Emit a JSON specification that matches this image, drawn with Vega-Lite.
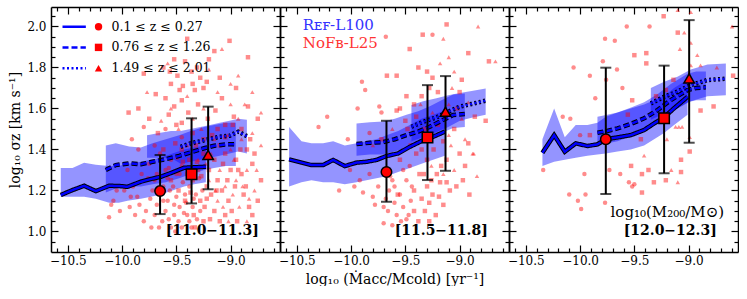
{
"$schema":"https://vega.github.io/schema/vega-lite/v6.json",
"padding":{"left":8,"top":6,"right":0,"bottom":0},
"background":"white",
"spacing":0,
"bounds":"flush",
"config":{"view":{"stroke":null},"axis":{"domainColor":"black","domainWidth":1.5,"tickColor":"black","tickWidth":1.2,"labelFont":"DejaVu Serif","labelFontSize":12,"labelColor":"black","titleFont":"DejaVu Serif","titleFontSize":14,"titleFontWeight":"normal","titleColor":"black","grid":false,"zindex":1}},
"datasets":{
"pts":[
{"p":1,"x":-9.40,"y":1.94,"z":2},{"p":1,"x":-9.01,"y":1.93,"z":2},{"p":1,"x":-9.20,"y":1.84,"z":2},{"p":1,"x":-8.84,"y":1.85,"z":2},{"p":1,"x":-9.49,"y":1.76,"z":2},{"p":1,"x":-9.44,"y":1.71,"z":2},{"p":1,"x":-9.31,"y":1.80,"z":2},{"p":1,"x":-9.80,"y":1.77,"z":2},{"p":1,"x":-9.69,"y":1.67,"z":2},{"p":1,"x":-9.52,"y":1.61,"z":2},{"p":1,"x":-9.94,"y":1.58,"z":2},{"p":1,"x":-9.57,"y":1.57,"z":2},{"p":1,"x":-9.67,"y":1.48,"z":2},{"p":1,"x":-8.97,"y":1.56,"z":2},{"p":1,"x":-8.84,"y":1.61,"z":2},{"p":1,"x":-9.08,"y":1.65,"z":2},{"p":1,"x":-9.14,"y":1.59,"z":2},{"p":1,"x":-9.35,"y":1.72,"z":2},{"p":1,"x":-9.25,"y":1.70,"z":2},{"p":1,"x":-9.55,"y":1.72,"z":2},{"p":1,"x":-9.60,"y":1.65,"z":2},{"p":1,"x":-9.45,"y":1.64,"z":2},{"p":1,"x":-9.28,"y":1.75,"z":2},{"p":1,"x":-9.10,"y":1.75,"z":2},{"p":1,"x":-8.95,"y":1.70,"z":2},{"p":1,"x":-9.62,"y":1.80,"z":2},{"p":1,"x":-9.15,"y":1.88,"z":2},{"p":1,"x":-9.50,"y":1.52,"z":2},{"p":1,"x":-9.75,"y":1.55,"z":2},{"p":1,"x":-9.85,"y":1.60,"z":2},{"p":1,"x":-9.30,"y":1.62,"z":2},{"p":1,"x":-8.90,"y":1.50,"z":2},{"p":1,"x":-9.05,"y":1.52,"z":2},{"p":1,"x":-8.75,"y":1.55,"z":2},
{"p":1,"x":-9.52,"y":1.84,"z":2},{"p":1,"x":-9.42,"y":1.83,"z":2},{"p":1,"x":-9.36,"y":1.78,"z":2},{"p":1,"x":-9.47,"y":1.69,"z":2},{"p":1,"x":-9.33,"y":1.69,"z":2},{"p":1,"x":-9.22,"y":1.73,"z":2},{"p":1,"x":-9.56,"y":1.78,"z":2},
{"p":1,"x":-9.45,"y":1.40,"z":2},{"p":1,"x":-9.38,"y":1.35,"z":2},{"p":1,"x":-9.32,"y":1.42,"z":2},{"p":1,"x":-9.25,"y":1.38,"z":2},{"p":1,"x":-9.20,"y":1.30,"z":2},{"p":1,"x":-9.15,"y":1.35,"z":2},{"p":1,"x":-9.10,"y":1.42,"z":2},{"p":1,"x":-9.05,"y":1.38,"z":2},{"p":1,"x":-9.00,"y":1.30,"z":2},{"p":1,"x":-8.95,"y":1.35,"z":2},{"p":1,"x":-8.90,"y":1.28,"z":2},{"p":1,"x":-8.85,"y":1.40,"z":2},{"p":1,"x":-8.80,"y":1.33,"z":2},{"p":1,"x":-9.40,"y":1.28,"z":2},{"p":1,"x":-9.35,"y":1.25,"z":2},{"p":1,"x":-9.30,"y":1.30,"z":2},{"p":1,"x":-9.22,"y":1.22,"z":2},{"p":1,"x":-9.18,"y":1.18,"z":2},{"p":1,"x":-9.12,"y":1.25,"z":2},{"p":1,"x":-9.08,"y":1.20,"z":2},{"p":1,"x":-9.02,"y":1.15,"z":2},{"p":1,"x":-8.96,"y":1.22,"z":2},{"p":1,"x":-8.88,"y":1.18,"z":2},{"p":1,"x":-8.83,"y":1.12,"z":2},{"p":1,"x":-8.80,"y":1.08,"z":2},{"p":1,"x":-9.28,"y":1.15,"z":2},{"p":1,"x":-9.34,"y":1.08,"z":2},{"p":1,"x":-9.25,"y":1.05,"z":2},{"p":1,"x":-9.15,"y":1.10,"z":2},{"p":1,"x":-9.10,"y":1.05,"z":2},{"p":1,"x":-9.05,"y":1.08,"z":2},{"p":1,"x":-9.42,"y":1.15,"z":2},{"p":1,"x":-9.48,"y":1.20,"z":2},{"p":1,"x":-9.55,"y":1.25,"z":2},{"p":1,"x":-9.25,"y":1.45,"z":2},{"p":1,"x":-9.35,"y":1.48,"z":2},{"p":1,"x":-9.05,"y":1.46,"z":2},{"p":1,"x":-9.62,"y":1.40,"z":2},{"p":1,"x":-8.72,"y":1.25,"z":2},{"p":1,"x":-8.75,"y":1.15,"z":2},
{"p":1,"x":-9.37,"y":1.19,"z":2},{"p":1,"x":-9.31,"y":1.34,"z":2},{"p":1,"x":-9.27,"y":1.27,"z":2},{"p":1,"x":-9.22,"y":1.16,"z":2},{"p":1,"x":-9.19,"y":1.06,"z":2},{"p":1,"x":-9.13,"y":1.20,"z":2},{"p":1,"x":-9.07,"y":1.33,"z":2},{"p":1,"x":-9.03,"y":1.25,"z":2},{"p":1,"x":-8.99,"y":1.10,"z":2},{"p":1,"x":-8.93,"y":1.30,"z":2},{"p":1,"x":-8.91,"y":1.40,"z":2},{"p":1,"x":-8.86,"y":1.22,"z":2},{"p":1,"x":-8.82,"y":1.45,"z":2},{"p":1,"x":-8.78,"y":1.38,"z":2},{"p":1,"x":-9.17,"y":1.47,"z":2},{"p":1,"x":-9.45,"y":1.53,"z":2},{"p":1,"x":-9.39,"y":1.58,"z":2},{"p":1,"x":-9.21,"y":1.55,"z":2},{"p":1,"x":-9.12,"y":1.50,"z":2},{"p":1,"x":-8.98,"y":1.52,"z":2},{"p":1,"x":-9.44,"y":1.34,"z":2},{"p":1,"x":-9.51,"y":1.43,"z":2},{"p":1,"x":-9.33,"y":1.02,"z":2},{"p":1,"x":-9.24,"y":1.12,"z":2},{"p":1,"x":-8.94,"y":1.05,"z":2},
{"p":1,"x":-9.08,"y":1.89,"z":3},{"p":1,"x":-8.93,"y":1.76,"z":3},{"p":1,"x":-9.58,"y":1.82,"z":3},{"p":1,"x":-9.77,"y":1.68,"z":3},{"p":1,"x":-9.64,"y":1.54,"z":3},{"p":1,"x":-9.20,"y":1.79,"z":3},{"p":1,"x":-9.00,"y":1.72,"z":3},{"p":1,"x":-8.80,"y":1.68,"z":3},{"p":1,"x":-9.40,"y":1.66,"z":3},{"p":1,"x":-9.25,"y":1.60,"z":3},{"p":1,"x":-8.87,"y":1.62,"z":3},{"p":1,"x":-9.12,"y":1.68,"z":3},{"p":1,"x":-9.35,"y":1.55,"z":3},{"p":1,"x":-9.48,"y":1.50,"z":3},{"p":1,"x":-8.72,"y":1.58,"z":3},{"p":1,"x":-9.00,"y":1.62,"z":3},{"p":1,"x":-9.55,"y":1.60,"z":3},
{"p":1,"x":-9.15,"y":1.45,"z":3},{"p":1,"x":-9.00,"y":1.40,"z":3},{"p":1,"x":-8.90,"y":1.45,"z":3},{"p":1,"x":-8.85,"y":1.30,"z":3},{"p":1,"x":-8.95,"y":1.25,"z":3},{"p":1,"x":-8.78,"y":1.20,"z":3},{"p":1,"x":-9.10,"y":1.30,"z":3},{"p":1,"x":-9.20,"y":1.25,"z":3},{"p":1,"x":-9.05,"y":1.22,"z":3},{"p":1,"x":-8.92,"y":1.12,"z":3},{"p":1,"x":-8.85,"y":1.05,"z":3},{"p":1,"x":-9.02,"y":1.05,"z":3},{"p":1,"x":-9.30,"y":1.35,"z":3},{"p":1,"x":-9.40,"y":1.42,"z":3},{"p":1,"x":-8.72,"y":1.42,"z":3},{"p":1,"x":-8.80,"y":1.48,"z":3},{"p":1,"x":-9.18,"y":1.38,"z":3},{"p":1,"x":-8.98,"y":1.18,"z":3},{"p":1,"x":-9.12,"y":1.15,"z":3},
{"p":1,"x":-9.14,"y":1.20,"z":3},{"p":1,"x":-9.07,"y":1.12,"z":3},{"p":1,"x":-8.97,"y":1.35,"z":3},{"p":1,"x":-8.89,"y":1.22,"z":3},{"p":1,"x":-8.83,"y":1.16,"z":3},{"p":1,"x":-8.76,"y":1.30,"z":3},{"p":1,"x":-9.23,"y":1.33,"z":3},{"p":1,"x":-9.03,"y":1.47,"z":3},{"p":1,"x":-8.93,"y":1.55,"z":3},{"p":1,"x":-9.27,"y":1.50,"z":3},
{"p":1,"x":-9.91,"y":1.45,"z":1},{"p":1,"x":-9.80,"y":1.51,"z":1},{"p":1,"x":-9.45,"y":1.46,"z":1},{"p":1,"x":-9.70,"y":1.42,"z":1},{"p":1,"x":-9.60,"y":1.50,"z":1},{"p":1,"x":-9.85,"y":1.40,"z":1},{"p":1,"x":-9.95,"y":1.30,"z":1},{"p":1,"x":-9.90,"y":1.22,"z":1},{"p":1,"x":-9.82,"y":1.28,"z":1},{"p":1,"x":-9.75,"y":1.33,"z":1},{"p":1,"x":-9.70,"y":1.25,"z":1},{"p":1,"x":-9.65,"y":1.38,"z":1},{"p":1,"x":-9.60,"y":1.30,"z":1},{"p":1,"x":-9.55,"y":1.35,"z":1},{"p":1,"x":-9.50,"y":1.28,"z":1},{"p":1,"x":-9.45,"y":1.32,"z":1},{"p":1,"x":-9.62,"y":1.22,"z":1},{"p":1,"x":-9.72,"y":1.20,"z":1},{"p":1,"x":-9.86,"y":1.17,"z":1},{"p":1,"x":-9.93,"y":1.12,"z":1},{"p":1,"x":-9.78,"y":1.10,"z":1},{"p":1,"x":-9.68,"y":1.13,"z":1},{"p":1,"x":-9.58,"y":1.15,"z":1},{"p":1,"x":-9.52,"y":1.08,"z":1},{"p":1,"x":-9.47,"y":1.12,"z":1},{"p":1,"x":-9.42,"y":1.18,"z":1},{"p":1,"x":-9.63,"y":1.05,"z":1},{"p":1,"x":-9.55,"y":1.02,"z":1},{"p":1,"x":-9.48,"y":1.05,"z":1},{"p":1,"x":-9.40,"y":1.08,"z":1},{"p":1,"x":-9.35,"y":1.12,"z":1},{"p":1,"x":-9.70,"y":1.08,"z":1},{"p":1,"x":-9.80,"y":1.05,"z":1},{"p":1,"x":-9.88,"y":1.08,"z":1},{"p":1,"x":-9.98,"y":1.20,"z":1},{"p":1,"x":-9.74,"y":1.16,"z":1},{"p":1,"x":-9.66,"y":1.18,"z":1},{"p":1,"x":-9.56,"y":1.20,"z":1},{"p":1,"x":-9.50,"y":1.17,"z":1},{"p":1,"x":-9.44,"y":1.24,"z":1},{"p":1,"x":-9.38,"y":1.22,"z":1},{"p":1,"x":-9.32,"y":1.18,"z":1},{"p":1,"x":-9.60,"y":1.10,"z":1},{"p":1,"x":-9.52,"y":1.13,"z":1},{"p":1,"x":-9.45,"y":1.02,"z":1},{"p":1,"x":-9.38,"y":1.05,"z":1},{"p":1,"x":-9.28,"y":1.10,"z":1},{"p":1,"x":-9.66,"y":1.02,"z":1},{"p":1,"x":-10.12,"y":1.07,"z":1},{"p":1,"x":-10.08,"y":1.15,"z":1},{"p":1,"x":-10.02,"y":1.10,"z":1},{"p":1,"x":-10.05,"y":1.20,"z":1},{"p":1,"x":-10.10,"y":1.13,"z":1},
{"p":1,"x":-9.58,"y":1.26,"z":1},{"p":1,"x":-9.53,"y":1.22,"z":1},{"p":1,"x":-9.47,"y":1.28,"z":1},{"p":1,"x":-9.41,"y":1.14,"z":1},{"p":1,"x":-9.36,"y":1.02,"z":1},{"p":1,"x":-9.31,"y":1.06,"z":1},{"p":1,"x":-9.26,"y":1.20,"z":1},{"p":1,"x":-9.57,"y":1.06,"z":1},{"p":1,"x":-9.62,"y":1.15,"z":1},{"p":1,"x":-9.68,"y":1.28,"z":1},{"p":1,"x":-9.76,"y":1.26,"z":1},{"p":1,"x":-9.84,"y":1.13,"z":1},{"p":1,"x":-9.92,"y":1.17,"z":1},{"p":1,"x":-9.73,"y":1.02,"z":1},{"p":1,"x":-9.51,"y":1.00,"z":1},{"p":1,"x":-9.43,"y":1.09,"z":1},{"p":1,"x":-9.34,"y":1.16,"z":1},{"p":1,"x":-9.29,"y":1.26,"z":1},{"p":1,"x":-9.57,"y":1.31,"z":1},{"p":1,"x":-9.49,"y":1.36,"z":1},
{"p":2,"x":-9.12,"y":2.01,"z":2},{"p":2,"x":-8.83,"y":2.00,"z":3},{"p":2,"x":-9.34,"y":1.96,"z":2},{"p":2,"x":-9.25,"y":1.96,"z":1},{"p":2,"x":-9.15,"y":1.94,"z":3},{"p":2,"x":-9.68,"y":1.95,"z":1},{"p":2,"x":-9.46,"y":1.89,"z":2},{"p":2,"x":-8.92,"y":1.87,"z":2},{"p":2,"x":-8.73,"y":1.83,"z":2},{"p":2,"x":-8.67,"y":1.83,"z":3},{"p":2,"x":-9.58,"y":1.76,"z":2},{"p":2,"x":-9.67,"y":1.76,"z":2},{"p":2,"x":-9.38,"y":1.80,"z":2},{"p":2,"x":-9.30,"y":1.78,"z":2},{"p":2,"x":-9.18,"y":1.82,"z":3},{"p":2,"x":-9.10,"y":1.85,"z":3},{"p":2,"x":-9.05,"y":1.78,"z":3},{"p":2,"x":-8.98,"y":1.74,"z":2},{"p":2,"x":-9.90,"y":1.73,"z":1},{"p":2,"x":-9.87,"y":1.69,"z":1},{"p":2,"x":-9.49,"y":1.66,"z":2},{"p":2,"x":-9.35,"y":1.66,"z":2},{"p":2,"x":-9.28,"y":1.70,"z":2},{"p":2,"x":-9.20,"y":1.68,"z":2},{"p":2,"x":-9.42,"y":1.62,"z":2},{"p":2,"x":-9.55,"y":1.60,"z":2},{"p":2,"x":-9.10,"y":1.62,"z":3},{"p":2,"x":-9.02,"y":1.60,"z":2},{"p":2,"x":-8.92,"y":1.63,"z":3},{"p":2,"x":-8.86,"y":1.56,"z":2},{"p":2,"x":-8.76,"y":1.54,"z":2},{"p":2,"x":-9.94,"y":1.60,"z":1},{"p":2,"x":-10.22,"y":1.56,"z":1},{"p":2,"x":-10.30,"y":1.51,"z":1},{"p":2,"x":-9.74,"y":1.61,"z":1},{"p":2,"x":-9.72,"y":1.58,"z":1},{"p":2,"x":-9.58,"y":1.59,"z":2},{"p":2,"x":-10.03,"y":1.45,"z":1},{"p":2,"x":-9.83,"y":1.48,"z":1},{"p":2,"x":-9.62,"y":1.50,"z":3},{"p":2,"x":-9.50,"y":1.54,"z":2},{"p":2,"x":-9.40,"y":1.56,"z":2},{"p":2,"x":-9.25,"y":1.58,"z":3},{"p":2,"x":-9.20,"y":1.52,"z":2},{"p":2,"x":-9.05,"y":1.50,"z":2},{"p":2,"x":-8.95,"y":1.45,"z":3},{"p":2,"x":-8.92,"y":1.43,"z":2},{"p":2,"x":-8.88,"y":1.38,"z":3},{"p":2,"x":-9.72,"y":1.45,"z":2},{"p":2,"x":-9.80,"y":1.42,"z":3},
{"p":2,"x":-10.11,"y":1.20,"z":1},{"p":2,"x":-9.97,"y":1.22,"z":1},{"p":2,"x":-9.89,"y":1.19,"z":1},{"p":2,"x":-9.78,"y":1.13,"z":1},{"p":2,"x":-9.70,"y":1.12,"z":1},{"p":2,"x":-9.66,"y":1.10,"z":1},{"p":2,"x":-9.60,"y":1.14,"z":1},{"p":2,"x":-9.55,"y":1.18,"z":1},{"p":2,"x":-9.49,"y":1.06,"z":1},{"p":2,"x":-9.38,"y":1.05,"z":2},{"p":2,"x":-10.01,"y":1.30,"z":1},{"p":2,"x":-9.57,"y":1.18,"z":2},{"p":2,"x":-9.46,"y":1.32,"z":1},{"p":2,"x":-9.37,"y":1.28,"z":2},{"p":2,"x":-9.49,"y":1.25,"z":1},{"p":2,"x":-9.28,"y":1.14,"z":2},{"p":2,"x":-9.21,"y":1.28,"z":2},{"p":2,"x":-9.12,"y":1.35,"z":2},{"p":2,"x":-9.15,"y":1.13,"z":2},{"p":2,"x":-8.97,"y":1.25,"z":2},{"p":2,"x":-8.84,"y":1.27,"z":3},{"p":2,"x":-8.87,"y":1.38,"z":3},{"p":2,"x":-9.09,"y":1.20,"z":2},{"p":2,"x":-9.30,"y":1.22,"z":2},{"p":2,"x":-9.42,"y":1.20,"z":2},{"p":2,"x":-9.35,"y":1.16,"z":2},{"p":2,"x":-9.25,"y":1.18,"z":2},{"p":2,"x":-9.18,"y":1.24,"z":2},{"p":2,"x":-9.52,"y":1.30,"z":1},{"p":2,"x":-9.62,"y":1.25,"z":1},{"p":2,"x":-9.75,"y":1.22,"z":1},{"p":2,"x":-9.83,"y":1.28,"z":1},{"p":2,"x":-9.65,"y":1.20,"z":1},{"p":2,"x":-9.58,"y":1.08,"z":1},{"p":2,"x":-9.52,"y":1.12,"z":1},{"p":2,"x":-9.45,"y":1.15,"z":1},{"p":2,"x":-9.42,"y":1.10,"z":2},{"p":2,"x":-9.32,"y":1.10,"z":2},{"p":2,"x":-9.22,"y":1.08,"z":2},{"p":2,"x":-9.30,"y":1.35,"z":2},{"p":2,"x":-9.40,"y":1.38,"z":2},{"p":2,"x":-9.05,"y":1.30,"z":3},{"p":2,"x":-9.00,"y":1.38,"z":2},{"p":2,"x":-9.08,"y":1.42,"z":3},{"p":2,"x":-8.95,"y":1.32,"z":2},{"p":2,"x":-9.70,"y":1.04,"z":1},{"p":2,"x":-9.62,"y":1.03,"z":1},{"p":2,"x":-9.15,"y":1.28,"z":3},{"p":2,"x":-9.26,"y":1.32,"z":3},
{"p":2,"x":-9.60,"y":1.22,"z":1},{"p":2,"x":-9.54,"y":1.05,"z":1},{"p":2,"x":-9.44,"y":1.22,"z":1},{"p":2,"x":-9.68,"y":1.16,"z":1},{"p":2,"x":-9.80,"y":1.17,"z":1},{"p":2,"x":-9.92,"y":1.25,"z":1},{"p":2,"x":-9.47,"y":1.08,"z":1},{"p":2,"x":-9.64,"y":1.27,"z":1},
{"p":2,"x":-9.33,"y":1.28,"z":2},{"p":2,"x":-9.26,"y":1.25,"z":2},{"p":2,"x":-9.19,"y":1.17,"z":2},{"p":2,"x":-9.12,"y":1.24,"z":2},{"p":2,"x":-9.35,"y":1.40,"z":2},{"p":2,"x":-9.24,"y":1.40,"z":2},{"p":2,"x":-9.45,"y":1.42,"z":2},{"p":2,"x":-9.17,"y":1.32,"z":2},{"p":2,"x":-9.03,"y":1.22,"z":2},{"p":2,"x":-9.28,"y":1.05,"z":2},{"p":2,"x":-8.91,"y":1.18,"z":2},{"p":2,"x":-9.55,"y":1.35,"z":2},{"p":2,"x":-9.48,"y":1.50,"z":2},{"p":2,"x":-9.32,"y":1.50,"z":2},{"p":2,"x":-9.15,"y":1.44,"z":2},{"p":2,"x":-9.00,"y":1.68,"z":2},{"p":2,"x":-9.25,"y":1.75,"z":2},
{"p":2,"x":-9.10,"y":1.47,"z":3},{"p":2,"x":-8.98,"y":1.55,"z":3},{"p":2,"x":-9.36,"y":1.62,"z":3},{"p":2,"x":-9.07,"y":1.70,"z":3},
{"p":3,"x":-9.23,"y":2.05,"z":2},{"p":3,"x":-9.10,"y":2.08,"z":3},{"p":3,"x":-8.98,"y":2.07,"z":3},{"p":3,"x":-9.57,"y":2.00,"z":1},{"p":3,"x":-9.36,"y":2.00,"z":1},{"p":3,"x":-8.60,"y":2.00,"z":3},{"p":3,"x":-9.10,"y":1.97,"z":2},{"p":3,"x":-9.04,"y":1.97,"z":3},{"p":3,"x":-9.77,"y":1.94,"z":1},{"p":3,"x":-9.68,"y":1.93,"z":1},{"p":3,"x":-8.98,"y":1.92,"z":3},{"p":3,"x":-9.08,"y":1.89,"z":3},{"p":3,"x":-9.39,"y":1.87,"z":2},{"p":3,"x":-9.50,"y":1.86,"z":2},{"p":3,"x":-9.39,"y":1.82,"z":2},{"p":3,"x":-9.79,"y":1.83,"z":1},{"p":3,"x":-8.92,"y":1.86,"z":3},{"p":3,"x":-8.98,"y":1.81,"z":3},{"p":3,"x":-8.89,"y":1.81,"z":3},{"p":3,"x":-8.74,"y":1.80,"z":3},{"p":3,"x":-8.59,"y":1.76,"z":2},{"p":3,"x":-10.06,"y":1.80,"z":1},{"p":3,"x":-9.91,"y":1.76,"z":1},{"p":3,"x":-9.66,"y":1.79,"z":1},{"p":3,"x":-9.76,"y":1.74,"z":1},{"p":3,"x":-9.61,"y":1.70,"z":1},{"p":3,"x":-9.86,"y":1.65,"z":1},{"p":3,"x":-9.52,"y":1.64,"z":2},{"p":3,"x":-9.14,"y":1.74,"z":2},{"p":3,"x":-9.21,"y":1.69,"z":2},{"p":3,"x":-9.30,"y":1.66,"z":2},{"p":3,"x":-8.77,"y":1.61,"z":2},{"p":3,"x":-8.89,"y":1.59,"z":2},{"p":3,"x":-9.12,"y":1.51,"z":3},{"p":3,"x":-9.09,"y":1.51,"z":3},{"p":3,"x":-9.06,"y":1.51,"z":3},{"p":3,"x":-9.44,"y":1.45,"z":2},{"p":3,"x":-9.56,"y":1.57,"z":2},{"p":3,"x":-9.91,"y":1.47,"z":2},{"p":3,"x":-10.00,"y":1.47,"z":1},{"p":3,"x":-10.16,"y":1.56,"z":1},{"p":3,"x":-10.09,"y":1.55,"z":1},{"p":3,"x":-10.34,"y":1.30,"z":1},{"p":3,"x":-9.96,"y":1.28,"z":1},{"p":3,"x":-10.10,"y":1.18,"z":1},{"p":3,"x":-9.95,"y":1.18,"z":1},{"p":3,"x":-10.02,"y":1.15,"z":1},{"p":3,"x":-9.99,"y":1.11,"z":1},{"p":3,"x":-9.77,"y":1.14,"z":1},{"p":3,"x":-9.73,"y":1.30,"z":1},{"p":3,"x":-9.63,"y":1.28,"z":1},{"p":3,"x":-9.55,"y":1.24,"z":1},{"p":3,"x":-9.50,"y":1.23,"z":1},{"p":3,"x":-9.52,"y":1.22,"z":1},{"p":3,"x":-9.53,"y":1.32,"z":2},{"p":3,"x":-9.43,"y":1.28,"z":2},{"p":3,"x":-9.43,"y":1.19,"z":2},{"p":3,"x":-9.32,"y":1.24,"z":2},{"p":3,"x":-9.21,"y":1.25,"z":2},{"p":3,"x":-9.10,"y":1.24,"z":3},{"p":3,"x":-9.07,"y":1.29,"z":2},{"p":3,"x":-8.99,"y":1.39,"z":2},{"p":3,"x":-9.07,"y":1.35,"z":2},{"p":3,"x":-9.41,"y":1.37,"z":3},{"p":3,"x":-9.16,"y":1.30,"z":3},{"p":3,"x":-9.37,"y":1.30,"z":2},{"p":3,"x":-9.20,"y":1.45,"z":3},{"p":3,"x":-8.99,"y":1.46,"z":3}
],
"curves":[
{"p":1,"z":1,"x":-10.565,"y":1.178,"lo":1.17,"hi":1.31},{"p":1,"z":1,"x":-10.457,"y":1.202,"lo":1.17,"hi":1.31},{"p":1,"z":1,"x":-10.35,"y":1.223,"lo":1.17,"hi":1.335},{"p":1,"z":1,"x":-10.242,"y":1.197,"lo":1.16,"hi":1.325},{"p":1,"z":1,"x":-10.119,"y":1.223,"lo":1.14,"hi":1.32},{"p":1,"z":1,"x":-10.03,"y":1.222,"lo":1.14,"hi":1.32},{"p":1,"z":1,"x":-9.95,"y":1.218,"lo":1.15,"hi":1.33},{"p":1,"z":1,"x":-9.827,"y":1.243,"lo":1.16,"hi":1.34},{"p":1,"z":1,"x":-9.735,"y":1.256,"lo":1.17,"hi":1.35},{"p":1,"z":1,"x":-9.643,"y":1.267,"lo":1.18,"hi":1.36},{"p":1,"z":1,"x":-9.536,"y":1.288,"lo":1.2,"hi":1.38},{"p":1,"z":1,"x":-9.428,"y":1.311,"lo":1.22,"hi":1.40},{"p":1,"z":1,"x":-9.336,"y":1.313,"lo":1.23,"hi":1.41},{"p":1,"z":1,"x":-9.228,"y":1.316,"lo":1.24,"hi":1.42},
{"p":1,"z":2,"x":-10.15,"y":1.30,"lo":1.19,"hi":1.42},{"p":1,"z":2,"x":-10.058,"y":1.324,"lo":1.21,"hi":1.43},{"p":1,"z":2,"x":-9.935,"y":1.332,"lo":1.22,"hi":1.415},{"p":1,"z":2,"x":-9.827,"y":1.328,"lo":1.22,"hi":1.41},{"p":1,"z":2,"x":-9.72,"y":1.34,"lo":1.23,"hi":1.43},{"p":1,"z":2,"x":-9.597,"y":1.353,"lo":1.24,"hi":1.45},{"p":1,"z":2,"x":-9.474,"y":1.369,"lo":1.26,"hi":1.47},{"p":1,"z":2,"x":-9.367,"y":1.386,"lo":1.28,"hi":1.49},{"p":1,"z":2,"x":-9.244,"y":1.406,"lo":1.30,"hi":1.51},{"p":1,"z":2,"x":-9.152,"y":1.418,"lo":1.31,"hi":1.52},{"p":1,"z":2,"x":-9.044,"y":1.425,"lo":1.32,"hi":1.53},{"p":1,"z":2,"x":-8.952,"y":1.425,"lo":1.32,"hi":1.53},
{"p":1,"z":3,"x":-9.77,"y":null,"lo":1.36,"hi":1.47},{"p":1,"z":3,"x":-9.66,"y":null,"lo":1.36,"hi":1.48},{"p":1,"z":3,"x":-9.55,"y":null,"lo":1.36,"hi":1.49},{"p":1,"z":3,"x":-9.46,"y":1.413,"lo":1.33,"hi":1.49},{"p":1,"z":3,"x":-9.37,"y":1.43,"lo":1.34,"hi":1.50},{"p":1,"z":3,"x":-9.28,"y":1.44,"lo":1.35,"hi":1.51},{"p":1,"z":3,"x":-9.19,"y":1.452,"lo":1.36,"hi":1.52},{"p":1,"z":3,"x":-9.10,"y":1.462,"lo":1.37,"hi":1.53},{"p":1,"z":3,"x":-9.01,"y":1.467,"lo":1.38,"hi":1.54},{"p":1,"z":3,"x":-8.93,"y":1.487,"lo":1.39,"hi":1.55},{"p":1,"z":3,"x":-8.85,"y":1.465,"lo":1.38,"hi":1.545},
{"p":2,"z":1,"x":-10.571,"y":1.352,"lo":1.22,"hi":1.51},{"p":2,"z":1,"x":-10.457,"y":1.336,"lo":1.24,"hi":1.44},{"p":2,"z":1,"x":-10.365,"y":1.324,"lo":1.25,"hi":1.43},{"p":2,"z":1,"x":-10.258,"y":1.324,"lo":1.24,"hi":1.43},{"p":2,"z":1,"x":-10.165,"y":1.349,"lo":1.24,"hi":1.44},{"p":2,"z":1,"x":-10.058,"y":1.319,"lo":1.23,"hi":1.42},{"p":2,"z":1,"x":-9.95,"y":1.336,"lo":1.24,"hi":1.43},{"p":2,"z":1,"x":-9.858,"y":1.34,"lo":1.25,"hi":1.44},{"p":2,"z":1,"x":-9.766,"y":1.349,"lo":1.26,"hi":1.45},{"p":2,"z":1,"x":-9.674,"y":1.368,"lo":1.27,"hi":1.47},{"p":2,"z":1,"x":-9.566,"y":1.381,"lo":1.29,"hi":1.49},{"p":2,"z":1,"x":-9.459,"y":1.413,"lo":1.31,"hi":1.52},{"p":2,"z":1,"x":-9.351,"y":1.441,"lo":1.33,"hi":1.55},{"p":2,"z":1,"x":-9.244,"y":1.462,"lo":1.35,"hi":1.57},{"p":2,"z":1,"x":-9.136,"y":1.487,"lo":1.37,"hi":1.59},
{"p":2,"z":2,"x":-9.95,"y":1.427,"lo":1.37,"hi":1.527},{"p":2,"z":2,"x":-9.827,"y":1.433,"lo":1.375,"hi":1.533},{"p":2,"z":2,"x":-9.705,"y":1.436,"lo":1.375,"hi":1.536},{"p":2,"z":2,"x":-9.597,"y":1.45,"lo":1.39,"hi":1.55},{"p":2,"z":2,"x":-9.49,"y":1.47,"lo":1.41,"hi":1.57},{"p":2,"z":2,"x":-9.382,"y":1.487,"lo":1.425,"hi":1.587},{"p":2,"z":2,"x":-9.274,"y":1.511,"lo":1.45,"hi":1.611},{"p":2,"z":2,"x":-9.167,"y":1.54,"lo":1.48,"hi":1.64},{"p":2,"z":2,"x":-9.06,"y":1.568,"lo":1.505,"hi":1.668},{"p":2,"z":2,"x":-8.952,"y":1.573,"lo":1.51,"hi":1.673},
{"p":2,"z":3,"x":-9.444,"y":1.511,"lo":1.44,"hi":1.617},{"p":2,"z":3,"x":-9.336,"y":1.535,"lo":1.46,"hi":1.635},{"p":2,"z":3,"x":-9.213,"y":1.557,"lo":1.485,"hi":1.65},{"p":2,"z":3,"x":-9.105,"y":1.584,"lo":1.51,"hi":1.665},{"p":2,"z":3,"x":-8.998,"y":1.609,"lo":1.54,"hi":1.675},{"p":2,"z":3,"x":-8.89,"y":1.622,"lo":1.555,"hi":1.685},{"p":2,"z":3,"x":-8.76,"y":1.638,"lo":1.57,"hi":1.698},
{"p":3,"z":1,"x":-10.347,"y":1.384,"lo":1.32,"hi":1.45},{"p":3,"z":1,"x":-10.239,"y":1.47,"lo":1.34,"hi":1.60},{"p":3,"z":1,"x":-10.141,"y":1.389,"lo":1.35,"hi":1.46},{"p":3,"z":1,"x":-10.04,"y":1.43,"lo":1.36,"hi":1.52},{"p":3,"z":1,"x":-9.932,"y":1.417,"lo":1.37,"hi":1.52},{"p":3,"z":1,"x":-9.84,"y":1.425,"lo":1.375,"hi":1.53},{"p":3,"z":1,"x":-9.763,"y":1.45,"lo":1.38,"hi":1.56},{"p":3,"z":1,"x":-9.655,"y":1.459,"lo":1.39,"hi":1.58},{"p":3,"z":1,"x":-9.533,"y":1.47,"lo":1.40,"hi":1.60},{"p":3,"z":1,"x":-9.41,"y":1.495,"lo":1.42,"hi":1.62},{"p":3,"z":1,"x":-9.318,"y":1.527,"lo":1.45,"hi":1.64},{"p":3,"z":1,"x":-9.226,"y":1.557,"lo":1.48,"hi":1.66},{"p":3,"z":1,"x":-9.134,"y":1.601,"lo":1.52,"hi":1.70},{"p":3,"z":1,"x":-9.01,"y":1.657,"lo":1.57,"hi":1.74},
{"p":3,"z":2,"x":-9.84,"y":1.482,"lo":1.42,"hi":1.56},{"p":3,"z":2,"x":-9.75,"y":1.49,"lo":1.43,"hi":1.57},{"p":3,"z":2,"x":-9.655,"y":1.503,"lo":1.44,"hi":1.58},{"p":3,"z":2,"x":-9.53,"y":1.525,"lo":1.465,"hi":1.605},{"p":3,"z":2,"x":-9.41,"y":1.552,"lo":1.49,"hi":1.63},{"p":3,"z":2,"x":-9.287,"y":1.592,"lo":1.53,"hi":1.67},{"p":3,"z":2,"x":-9.164,"y":1.641,"lo":1.58,"hi":1.72},{"p":3,"z":2,"x":-9.01,"y":1.69,"lo":1.63,"hi":1.77},{"p":3,"z":2,"x":-8.93,"y":1.70,"lo":1.64,"hi":1.78},{"p":3,"z":2,"x":-8.841,"y":1.703,"lo":1.64,"hi":1.78},
{"p":3,"z":3,"x":-9.348,"y":1.625,"lo":1.545,"hi":1.70},{"p":3,"z":3,"x":-9.226,"y":1.657,"lo":1.575,"hi":1.73},{"p":3,"z":3,"x":-9.103,"y":1.682,"lo":1.60,"hi":1.755},{"p":3,"z":3,"x":-8.98,"y":1.714,"lo":1.635,"hi":1.79},{"p":3,"z":3,"x":-8.826,"y":1.739,"lo":1.66,"hi":1.815},{"p":3,"z":3,"x":-8.657,"y":1.745,"lo":1.665,"hi":1.82}
],
"big":[
{"p":1,"z":1,"x":-9.65,"y":1.197,"lo":1.085,"hi":1.373},{"p":1,"z":2,"x":-9.36,"y":1.279,"lo":1.137,"hi":1.552},{"p":1,"z":3,"x":-9.207,"y":1.373,"lo":1.206,"hi":1.609},
{"p":2,"z":1,"x":-9.674,"y":1.29,"lo":1.145,"hi":1.54},{"p":2,"z":2,"x":-9.296,"y":1.459,"lo":1.251,"hi":1.714},{"p":2,"z":3,"x":-9.13,"y":1.584,"lo":1.296,"hi":1.758},
{"p":3,"z":1,"x":-9.763,"y":1.45,"lo":1.183,"hi":1.799},{"p":3,"z":2,"x":-9.226,"y":1.552,"lo":1.284,"hi":1.809},{"p":3,"z":3,"x":-8.995,"y":1.747,"lo":1.433,"hi":2.031}
],
"ann":[
{"p":1,"k":"rng","x":-8.74,"y":1.0,"t":"[11.0−11.3]"},{"p":2,"k":"rng","x":-8.74,"y":1.0,"t":"[11.5−11.8]"},{"p":3,"k":"rng","x":-8.74,"y":1.0,"t":"[12.0−12.3]"},
{"p":3,"k":"mass","x":-8.673,"y":1.096,"t":"log₁₀(M₂₀₀/M⊙)"},
{"p":2,"k":"ref","x":-10.445,"y":2.007,"t":"Rᴇꜰ-L100"},{"p":2,"k":"nofb","x":-10.445,"y":1.921,"t":"NᴏFʙ-L25"}
],
"leg":[
{"z":1,"x1":-10.549,"x2":-10.334,"xm":-10.217,"xt":-10.098,"y":1.999,"t":"0.1 ≤ z ≤ 0.27"},
{"z":2,"x1":-10.549,"x2":-10.334,"xm":-10.217,"xt":-10.098,"y":1.898,"t":"0.76 ≤ z ≤ 1.26"},
{"z":3,"x1":-10.549,"x2":-10.334,"xm":-10.217,"xt":-10.098,"y":1.796,"t":"1.49 ≤ z ≤ 2.01"}
]
},
"hconcat":[
{"width":229,"height":245,"resolve":{"axis":{"x":"independent","y":"independent"}},
"layer":[
{"data":{"name":"curves"},"transform":[{"filter":"datum.p == 1"}],"mark":{"type":"area","color":"#0000ff","opacity":0.42},
"encoding":{"x":{"field":"x","type":"quantitative","scale":{"domain":[-10.655,-8.545],"nice":false,"zero":false},"axis":{"orient":"top","values":[-10.5,-10,-9.5,-9],"tickSize":-7,"labels":false,"title":null}},
"y":{"field":"lo","type":"quantitative","scale":{"domain":[0.9,2.095],"nice":false,"zero":false},"axis":{"orient":"right","values":[1.0,1.2,1.4,1.6,1.8,2.0],"tickSize":-7,"labels":false,"title":null}},
"y2":{"field":"hi"},"detail":{"field":"z","type":"nominal"}}},
{"data":{"name":"pts"},"transform":[{"filter":"datum.p == 1"}],"mark":{"type":"point","filled":true,"size":20,"opacity":0.45,"color":"#ff0000"},
"encoding":{"x":{"field":"x","type":"quantitative","scale":{"domain":[-10.655,-8.545],"nice":false,"zero":false},"axis":{"orient":"bottom","values":[-10.5,-10,-9.5,-9],"format":".1f","tickSize":-7,"labelPadding":10,"title":null}},
"y":{"field":"y","type":"quantitative","scale":{"domain":[0.9,2.095],"nice":false,"zero":false},"axis":{"orient":"left","values":[1.0,1.2,1.4,1.6,1.8,2.0],"format":".1f","tickSize":-7,"labelPadding":12,"title":"log₁₀ σz [km s⁻¹]","titlePadding":4}},
"shape":{"field":"z","type":"nominal","scale":{"domain":[1,2,3],"range":["circle","square","triangle-up"]},"legend":null}}},
{"data":{"name":"curves"},"transform":[{"filter":"datum.p == 1 && isValid(datum.y)"}],"mark":{"type":"line","color":"black","strokeWidth":4.5,"strokeCap":"butt"},
"encoding":{"x":{"field":"x","type":"quantitative","scale":{"domain":[-10.655,-8.545],"nice":false,"zero":false},"axis":{"orient":"bottom","values":[-10.6,-10.4,-10.3,-10.2,-10.1,-9.9,-9.8,-9.7,-9.6,-9.4,-9.3,-9.2,-9.1,-8.9,-8.8,-8.7,-8.6],"tickSize":-4,"labels":false,"domain":false,"title":null}},
"y":{"field":"y","type":"quantitative","scale":{"domain":[0.9,2.095],"nice":false,"zero":false},"axis":{"orient":"left","values":[0.95,1.05,1.1,1.15,1.25,1.3,1.35,1.45,1.5,1.55,1.65,1.7,1.75,1.85,1.9,1.95,2.05],"tickSize":-4,"labels":false,"domain":false,"title":null}},
"strokeDash":{"field":"z","type":"nominal","scale":{"domain":[1,2,3],"range":[[1,0],[6,3],[2,2.5]]},"legend":null}}},
{"data":{"name":"curves"},"transform":[{"filter":"datum.p == 1 && isValid(datum.y)"}],"mark":{"type":"line","color":"#0000ff","strokeWidth":2.5,"strokeCap":"butt"},
"encoding":{"x":{"field":"x","type":"quantitative","scale":{"domain":[-10.655,-8.545],"nice":false,"zero":false},"axis":{"orient":"top","values":[-10.6,-10.4,-10.3,-10.2,-10.1,-9.9,-9.8,-9.7,-9.6,-9.4,-9.3,-9.2,-9.1,-8.9,-8.8,-8.7,-8.6],"tickSize":-4,"labels":false,"domain":false,"title":null}},
"y":{"field":"y","type":"quantitative","scale":{"domain":[0.9,2.095],"nice":false,"zero":false},"axis":{"orient":"right","values":[0.95,1.05,1.1,1.15,1.25,1.3,1.35,1.45,1.5,1.55,1.65,1.7,1.75,1.85,1.9,1.95,2.05],"tickSize":-4,"labels":false,"domain":false,"title":null}},
"strokeDash":{"field":"z","type":"nominal","scale":{"domain":[1,2,3],"range":[[1,0],[6,3],[2,2.5]]},"legend":null}}},
{"data":{"name":"big"},"transform":[{"filter":"datum.p == 1"}],"mark":{"type":"rule","color":"black","strokeWidth":2},
"encoding":{"x":{"field":"x","type":"quantitative","scale":{"domain":[-10.655,-8.545],"nice":false,"zero":false},"axis":null},"y":{"field":"lo","type":"quantitative","scale":{"domain":[0.9,2.095],"nice":false,"zero":false},"axis":null},"y2":{"field":"hi"}}},
{"data":{"name":"big"},"transform":[{"filter":"datum.p == 1"}],"mark":{"type":"tick","orient":"horizontal","color":"black","thickness":2,"size":11},
"encoding":{"x":{"field":"x","type":"quantitative","scale":{"domain":[-10.655,-8.545],"nice":false,"zero":false},"axis":null},"y":{"field":"lo","type":"quantitative","scale":{"domain":[0.9,2.095],"nice":false,"zero":false},"axis":null}}},
{"data":{"name":"big"},"transform":[{"filter":"datum.p == 1"}],"mark":{"type":"tick","orient":"horizontal","color":"black","thickness":2,"size":11},
"encoding":{"x":{"field":"x","type":"quantitative","scale":{"domain":[-10.655,-8.545],"nice":false,"zero":false},"axis":null},"y":{"field":"hi","type":"quantitative","scale":{"domain":[0.9,2.095],"nice":false,"zero":false},"axis":null}}},
{"data":{"name":"big"},"transform":[{"filter":"datum.p == 1"}],"mark":{"type":"point","filled":true,"size":110,"color":"#ff0000","stroke":"black","strokeWidth":1.5,"opacity":1},
"encoding":{"x":{"field":"x","type":"quantitative","scale":{"domain":[-10.655,-8.545],"nice":false,"zero":false},"axis":null},"y":{"field":"y","type":"quantitative","scale":{"domain":[0.9,2.095],"nice":false,"zero":false},"axis":null},
"shape":{"field":"z","type":"nominal","scale":{"domain":[1,2,3],"range":["circle","square","triangle-up"]},"legend":null}}},
{"data":{"name":"ann"},"transform":[{"filter":"datum.p == 1 && datum.k == 'rng'"}],"mark":{"type":"text","align":"right","baseline":"middle","font":"DejaVu Serif","fontSize":14,"fontWeight":"bold","color":"black"},
"encoding":{"x":{"field":"x","type":"quantitative","scale":{"domain":[-10.655,-8.545],"nice":false,"zero":false},"axis":null},"y":{"field":"y","type":"quantitative","scale":{"domain":[0.9,2.095],"nice":false,"zero":false},"axis":null},"text":{"field":"t"}}},
{"data":{"name":"leg"},"mark":{"type":"rule","color":"#0000ff","strokeWidth":2.5,"strokeCap":"butt"},
"encoding":{"x":{"field":"x1","type":"quantitative","scale":{"domain":[-10.655,-8.545],"nice":false,"zero":false},"axis":null},"x2":{"field":"x2"},"y":{"field":"y","type":"quantitative","scale":{"domain":[0.9,2.095],"nice":false,"zero":false},"axis":null},
"strokeDash":{"field":"z","type":"nominal","scale":{"domain":[1,2,3],"range":[[1,0],[6,3],[2,2.5]]},"legend":null}}},
{"data":{"name":"leg"},"mark":{"type":"point","filled":true,"size":55,"color":"#ff0000","opacity":1},
"encoding":{"x":{"field":"xm","type":"quantitative","scale":{"domain":[-10.655,-8.545],"nice":false,"zero":false},"axis":null},"y":{"field":"y","type":"quantitative","scale":{"domain":[0.9,2.095],"nice":false,"zero":false},"axis":null},
"shape":{"field":"z","type":"nominal","scale":{"domain":[1,2,3],"range":["circle","square","triangle-up"]},"legend":null}}},
{"data":{"name":"leg"},"mark":{"type":"text","align":"left","baseline":"middle","font":"DejaVu Serif","fontSize":12.5,"color":"black"},
"encoding":{"x":{"field":"xt","type":"quantitative","scale":{"domain":[-10.655,-8.545],"nice":false,"zero":false},"axis":null},"y":{"field":"y","type":"quantitative","scale":{"domain":[0.9,2.095],"nice":false,"zero":false},"axis":null},"text":{"field":"t"}}}
]},
{"width":229,"height":245,"resolve":{"axis":{"x":"independent","y":"independent"}},
"layer":[
{"data":{"name":"curves"},"transform":[{"filter":"datum.p == 2"}],"mark":{"type":"area","color":"#0000ff","opacity":0.42},
"encoding":{"x":{"field":"x","type":"quantitative","scale":{"domain":[-10.655,-8.545],"nice":false,"zero":false},"axis":{"orient":"top","values":[-10.5,-10,-9.5,-9],"tickSize":-7,"labels":false,"title":null}},
"y":{"field":"lo","type":"quantitative","scale":{"domain":[0.9,2.095],"nice":false,"zero":false},"axis":{"orient":"right","values":[1.0,1.2,1.4,1.6,1.8,2.0],"tickSize":-7,"labels":false,"title":null}},
"y2":{"field":"hi"},"detail":{"field":"z","type":"nominal"}}},
{"data":{"name":"pts"},"transform":[{"filter":"datum.p == 2"}],"mark":{"type":"point","filled":true,"size":20,"opacity":0.45,"color":"#ff0000"},
"encoding":{"x":{"field":"x","type":"quantitative","scale":{"domain":[-10.655,-8.545],"nice":false,"zero":false},"axis":{"orient":"bottom","values":[-10.5,-10,-9.5,-9],"format":".1f","tickSize":-7,"labelPadding":10,"title":"log₁₀ (Ṁacc/Mcold) [yr⁻¹]","titlePadding":6}},
"y":{"field":"y","type":"quantitative","scale":{"domain":[0.9,2.095],"nice":false,"zero":false},"axis":{"orient":"left","values":[1.0,1.2,1.4,1.6,1.8,2.0],"tickSize":-7,"labels":false,"title":null}},
"shape":{"field":"z","type":"nominal","scale":{"domain":[1,2,3],"range":["circle","square","triangle-up"]},"legend":null}}},
{"data":{"name":"curves"},"transform":[{"filter":"datum.p == 2 && isValid(datum.y)"}],"mark":{"type":"line","color":"black","strokeWidth":4.5,"strokeCap":"butt"},
"encoding":{"x":{"field":"x","type":"quantitative","scale":{"domain":[-10.655,-8.545],"nice":false,"zero":false},"axis":{"orient":"bottom","values":[-10.6,-10.4,-10.3,-10.2,-10.1,-9.9,-9.8,-9.7,-9.6,-9.4,-9.3,-9.2,-9.1,-8.9,-8.8,-8.7,-8.6],"tickSize":-4,"labels":false,"domain":false,"title":null}},
"y":{"field":"y","type":"quantitative","scale":{"domain":[0.9,2.095],"nice":false,"zero":false},"axis":{"orient":"left","values":[0.95,1.05,1.1,1.15,1.25,1.3,1.35,1.45,1.5,1.55,1.65,1.7,1.75,1.85,1.9,1.95,2.05],"tickSize":-4,"labels":false,"domain":false,"title":null}},
"strokeDash":{"field":"z","type":"nominal","scale":{"domain":[1,2,3],"range":[[1,0],[6,3],[2,2.5]]},"legend":null}}},
{"data":{"name":"curves"},"transform":[{"filter":"datum.p == 2 && isValid(datum.y)"}],"mark":{"type":"line","color":"#0000ff","strokeWidth":2.5,"strokeCap":"butt"},
"encoding":{"x":{"field":"x","type":"quantitative","scale":{"domain":[-10.655,-8.545],"nice":false,"zero":false},"axis":{"orient":"top","values":[-10.6,-10.4,-10.3,-10.2,-10.1,-9.9,-9.8,-9.7,-9.6,-9.4,-9.3,-9.2,-9.1,-8.9,-8.8,-8.7,-8.6],"tickSize":-4,"labels":false,"domain":false,"title":null}},
"y":{"field":"y","type":"quantitative","scale":{"domain":[0.9,2.095],"nice":false,"zero":false},"axis":{"orient":"right","values":[0.95,1.05,1.1,1.15,1.25,1.3,1.35,1.45,1.5,1.55,1.65,1.7,1.75,1.85,1.9,1.95,2.05],"tickSize":-4,"labels":false,"domain":false,"title":null}},
"strokeDash":{"field":"z","type":"nominal","scale":{"domain":[1,2,3],"range":[[1,0],[6,3],[2,2.5]]},"legend":null}}},
{"data":{"name":"big"},"transform":[{"filter":"datum.p == 2"}],"mark":{"type":"rule","color":"black","strokeWidth":2},
"encoding":{"x":{"field":"x","type":"quantitative","scale":{"domain":[-10.655,-8.545],"nice":false,"zero":false},"axis":null},"y":{"field":"lo","type":"quantitative","scale":{"domain":[0.9,2.095],"nice":false,"zero":false},"axis":null},"y2":{"field":"hi"}}},
{"data":{"name":"big"},"transform":[{"filter":"datum.p == 2"}],"mark":{"type":"tick","orient":"horizontal","color":"black","thickness":2,"size":11},
"encoding":{"x":{"field":"x","type":"quantitative","scale":{"domain":[-10.655,-8.545],"nice":false,"zero":false},"axis":null},"y":{"field":"lo","type":"quantitative","scale":{"domain":[0.9,2.095],"nice":false,"zero":false},"axis":null}}},
{"data":{"name":"big"},"transform":[{"filter":"datum.p == 2"}],"mark":{"type":"tick","orient":"horizontal","color":"black","thickness":2,"size":11},
"encoding":{"x":{"field":"x","type":"quantitative","scale":{"domain":[-10.655,-8.545],"nice":false,"zero":false},"axis":null},"y":{"field":"hi","type":"quantitative","scale":{"domain":[0.9,2.095],"nice":false,"zero":false},"axis":null}}},
{"data":{"name":"big"},"transform":[{"filter":"datum.p == 2"}],"mark":{"type":"point","filled":true,"size":110,"color":"#ff0000","stroke":"black","strokeWidth":1.5,"opacity":1},
"encoding":{"x":{"field":"x","type":"quantitative","scale":{"domain":[-10.655,-8.545],"nice":false,"zero":false},"axis":null},"y":{"field":"y","type":"quantitative","scale":{"domain":[0.9,2.095],"nice":false,"zero":false},"axis":null},
"shape":{"field":"z","type":"nominal","scale":{"domain":[1,2,3],"range":["circle","square","triangle-up"]},"legend":null}}},
{"data":{"name":"ann"},"transform":[{"filter":"datum.p == 2 && datum.k == 'rng'"}],"mark":{"type":"text","align":"right","baseline":"middle","font":"DejaVu Serif","fontSize":14,"fontWeight":"bold","color":"black"},
"encoding":{"x":{"field":"x","type":"quantitative","scale":{"domain":[-10.655,-8.545],"nice":false,"zero":false},"axis":null},"y":{"field":"y","type":"quantitative","scale":{"domain":[0.9,2.095],"nice":false,"zero":false},"axis":null},"text":{"field":"t"}}},
{"data":{"name":"ann"},"transform":[{"filter":"datum.k == 'ref'"}],"mark":{"type":"text","align":"left","baseline":"middle","font":"DejaVu Serif","fontSize":15,"color":"#3333ff"},
"encoding":{"x":{"field":"x","type":"quantitative","scale":{"domain":[-10.655,-8.545],"nice":false,"zero":false},"axis":null},"y":{"field":"y","type":"quantitative","scale":{"domain":[0.9,2.095],"nice":false,"zero":false},"axis":null},"text":{"field":"t"}}},
{"data":{"name":"ann"},"transform":[{"filter":"datum.k == 'nofb'"}],"mark":{"type":"text","align":"left","baseline":"middle","font":"DejaVu Serif","fontSize":15,"color":"#ff3333"},
"encoding":{"x":{"field":"x","type":"quantitative","scale":{"domain":[-10.655,-8.545],"nice":false,"zero":false},"axis":null},"y":{"field":"y","type":"quantitative","scale":{"domain":[0.9,2.095],"nice":false,"zero":false},"axis":null},"text":{"field":"t"}}}
]},
{"width":229,"height":245,"resolve":{"axis":{"x":"independent","y":"independent"}},
"layer":[
{"data":{"name":"curves"},"transform":[{"filter":"datum.p == 3"}],"mark":{"type":"area","color":"#0000ff","opacity":0.42},
"encoding":{"x":{"field":"x","type":"quantitative","scale":{"domain":[-10.655,-8.545],"nice":false,"zero":false},"axis":{"orient":"top","values":[-10.5,-10,-9.5,-9],"tickSize":-7,"labels":false,"title":null}},
"y":{"field":"lo","type":"quantitative","scale":{"domain":[0.9,2.095],"nice":false,"zero":false},"axis":{"orient":"right","values":[1.0,1.2,1.4,1.6,1.8,2.0],"tickSize":-7,"labels":false,"title":null}},
"y2":{"field":"hi"},"detail":{"field":"z","type":"nominal"}}},
{"data":{"name":"pts"},"transform":[{"filter":"datum.p == 3"}],"mark":{"type":"point","filled":true,"size":20,"opacity":0.45,"color":"#ff0000"},
"encoding":{"x":{"field":"x","type":"quantitative","scale":{"domain":[-10.655,-8.545],"nice":false,"zero":false},"axis":{"orient":"bottom","values":[-10.5,-10,-9.5,-9],"format":".1f","tickSize":-7,"labelPadding":10,"title":null}},
"y":{"field":"y","type":"quantitative","scale":{"domain":[0.9,2.095],"nice":false,"zero":false},"axis":{"orient":"left","values":[1.0,1.2,1.4,1.6,1.8,2.0],"tickSize":-7,"labels":false,"title":null}},
"shape":{"field":"z","type":"nominal","scale":{"domain":[1,2,3],"range":["circle","square","triangle-up"]},"legend":null}}},
{"data":{"name":"curves"},"transform":[{"filter":"datum.p == 3 && isValid(datum.y)"}],"mark":{"type":"line","color":"black","strokeWidth":4.5,"strokeCap":"butt"},
"encoding":{"x":{"field":"x","type":"quantitative","scale":{"domain":[-10.655,-8.545],"nice":false,"zero":false},"axis":{"orient":"bottom","values":[-10.6,-10.4,-10.3,-10.2,-10.1,-9.9,-9.8,-9.7,-9.6,-9.4,-9.3,-9.2,-9.1,-8.9,-8.8,-8.7,-8.6],"tickSize":-4,"labels":false,"domain":false,"title":null}},
"y":{"field":"y","type":"quantitative","scale":{"domain":[0.9,2.095],"nice":false,"zero":false},"axis":{"orient":"left","values":[0.95,1.05,1.1,1.15,1.25,1.3,1.35,1.45,1.5,1.55,1.65,1.7,1.75,1.85,1.9,1.95,2.05],"tickSize":-4,"labels":false,"domain":false,"title":null}},
"strokeDash":{"field":"z","type":"nominal","scale":{"domain":[1,2,3],"range":[[1,0],[6,3],[2,2.5]]},"legend":null}}},
{"data":{"name":"curves"},"transform":[{"filter":"datum.p == 3 && isValid(datum.y)"}],"mark":{"type":"line","color":"#0000ff","strokeWidth":2.5,"strokeCap":"butt"},
"encoding":{"x":{"field":"x","type":"quantitative","scale":{"domain":[-10.655,-8.545],"nice":false,"zero":false},"axis":{"orient":"top","values":[-10.6,-10.4,-10.3,-10.2,-10.1,-9.9,-9.8,-9.7,-9.6,-9.4,-9.3,-9.2,-9.1,-8.9,-8.8,-8.7,-8.6],"tickSize":-4,"labels":false,"domain":false,"title":null}},
"y":{"field":"y","type":"quantitative","scale":{"domain":[0.9,2.095],"nice":false,"zero":false},"axis":{"orient":"right","values":[0.95,1.05,1.1,1.15,1.25,1.3,1.35,1.45,1.5,1.55,1.65,1.7,1.75,1.85,1.9,1.95,2.05],"tickSize":-4,"labels":false,"domain":false,"title":null}},
"strokeDash":{"field":"z","type":"nominal","scale":{"domain":[1,2,3],"range":[[1,0],[6,3],[2,2.5]]},"legend":null}}},
{"data":{"name":"big"},"transform":[{"filter":"datum.p == 3"}],"mark":{"type":"rule","color":"black","strokeWidth":2},
"encoding":{"x":{"field":"x","type":"quantitative","scale":{"domain":[-10.655,-8.545],"nice":false,"zero":false},"axis":null},"y":{"field":"lo","type":"quantitative","scale":{"domain":[0.9,2.095],"nice":false,"zero":false},"axis":null},"y2":{"field":"hi"}}},
{"data":{"name":"big"},"transform":[{"filter":"datum.p == 3"}],"mark":{"type":"tick","orient":"horizontal","color":"black","thickness":2,"size":11},
"encoding":{"x":{"field":"x","type":"quantitative","scale":{"domain":[-10.655,-8.545],"nice":false,"zero":false},"axis":null},"y":{"field":"lo","type":"quantitative","scale":{"domain":[0.9,2.095],"nice":false,"zero":false},"axis":null}}},
{"data":{"name":"big"},"transform":[{"filter":"datum.p == 3"}],"mark":{"type":"tick","orient":"horizontal","color":"black","thickness":2,"size":11},
"encoding":{"x":{"field":"x","type":"quantitative","scale":{"domain":[-10.655,-8.545],"nice":false,"zero":false},"axis":null},"y":{"field":"hi","type":"quantitative","scale":{"domain":[0.9,2.095],"nice":false,"zero":false},"axis":null}}},
{"data":{"name":"big"},"transform":[{"filter":"datum.p == 3"}],"mark":{"type":"point","filled":true,"size":110,"color":"#ff0000","stroke":"black","strokeWidth":1.5,"opacity":1},
"encoding":{"x":{"field":"x","type":"quantitative","scale":{"domain":[-10.655,-8.545],"nice":false,"zero":false},"axis":null},"y":{"field":"y","type":"quantitative","scale":{"domain":[0.9,2.095],"nice":false,"zero":false},"axis":null},
"shape":{"field":"z","type":"nominal","scale":{"domain":[1,2,3],"range":["circle","square","triangle-up"]},"legend":null}}},
{"data":{"name":"ann"},"transform":[{"filter":"datum.p == 3 && datum.k == 'rng'"}],"mark":{"type":"text","align":"right","baseline":"middle","font":"DejaVu Serif","fontSize":14,"fontWeight":"bold","color":"black"},
"encoding":{"x":{"field":"x","type":"quantitative","scale":{"domain":[-10.655,-8.545],"nice":false,"zero":false},"axis":null},"y":{"field":"y","type":"quantitative","scale":{"domain":[0.9,2.095],"nice":false,"zero":false},"axis":null},"text":{"field":"t"}}},
{"data":{"name":"ann"},"transform":[{"filter":"datum.k == 'mass'"}],"mark":{"type":"text","align":"right","baseline":"middle","font":"DejaVu Serif","fontSize":15,"color":"black"},
"encoding":{"x":{"field":"x","type":"quantitative","scale":{"domain":[-10.655,-8.545],"nice":false,"zero":false},"axis":null},"y":{"field":"y","type":"quantitative","scale":{"domain":[0.9,2.095],"nice":false,"zero":false},"axis":null},"text":{"field":"t"}}}
]}
]
}
